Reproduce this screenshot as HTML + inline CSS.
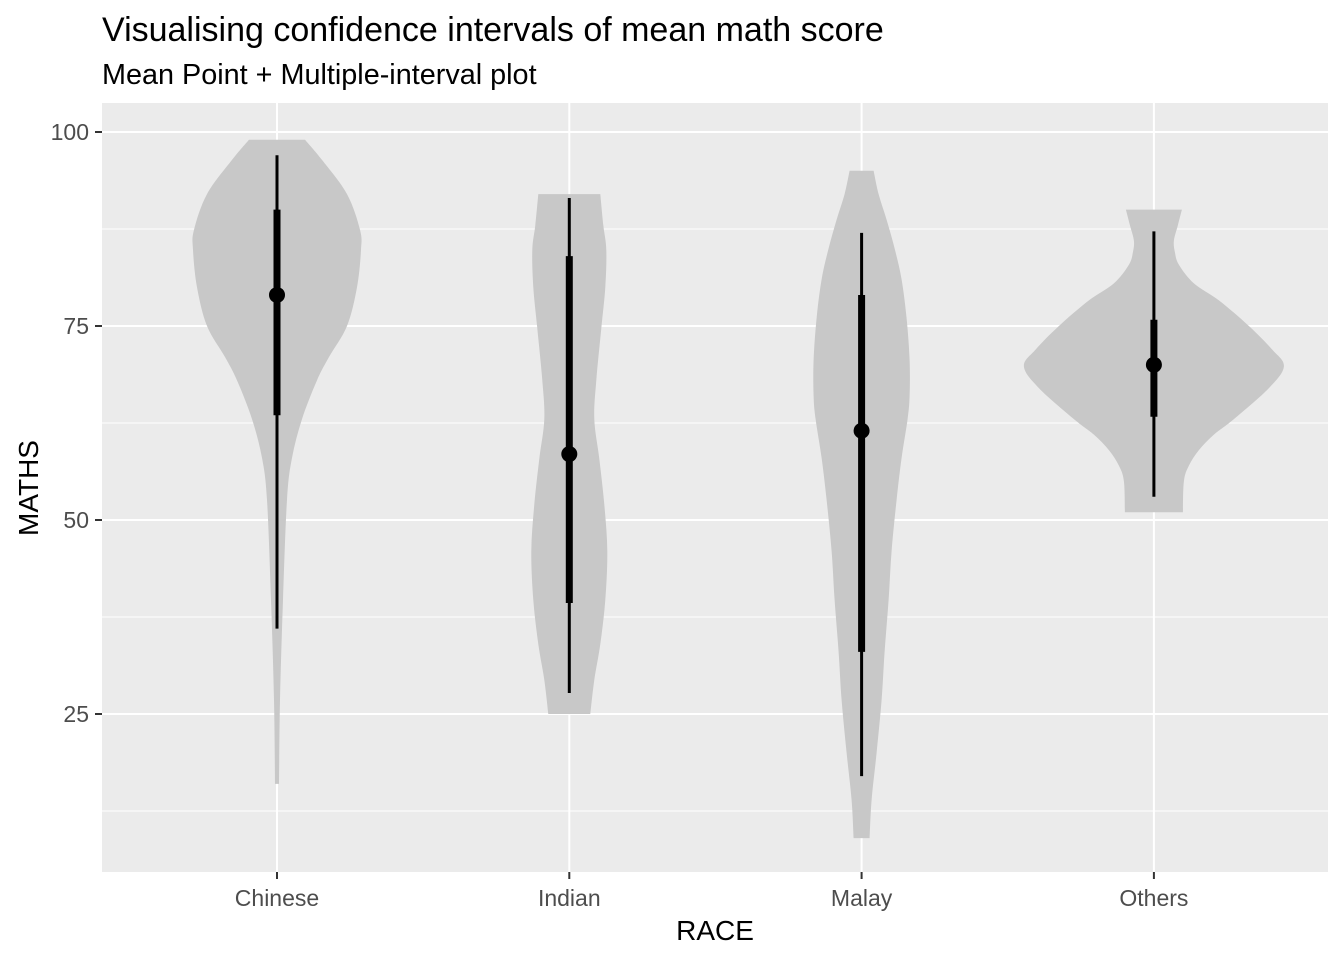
<!DOCTYPE html>
<html><head><meta charset="utf-8"><style>
body{margin:0;background:#fff;}
svg{display:block;font-family:"Liberation Sans",Arial,sans-serif;}
</style></head><body>
<svg id="chart" width="1344" height="960">
<text x="102" y="41" font-size="34" fill="#000">Visualising confidence intervals of mean math score</text>
<text x="102" y="84" font-size="28.8" fill="#000">Mean Point + Multiple-interval plot</text>
<rect x="102" y="103" width="1226" height="769" fill="#ebebeb"/>
<g id="grid"></g><g id="violins"></g><g id="marks"></g><g id="axes"></g>
<text x="715" y="940" font-size="28" text-anchor="middle">RACE</text>
<text transform="translate(38,488) rotate(-90)" font-size="28" text-anchor="middle">MATHS</text>
</svg>
<script>
const categories=["Chinese","Indian","Malay","Others"];
const yTicks=[25,50,75,100];
const yMinor=[12.5,37.5,62.5,87.5];
const violinChinese=[[99,28],[96.4,45],[92,70],[87.4,83],[84.8,84],[80,80],[75,70],[71,52],[68,40],[63,25],[58,15],[52.6,10],[39.7,6],[26.8,3],[16,2]];
const violinIndian=[[92,31],[88,34],[84.8,37],[80,36],[74.7,32],[68,27],[63,25],[57.9,30],[52,35],[46,38],[39.7,36],[34,31],[29.4,25],[25,21]];
const violinMalay=[[95,12],[92,17],[88.7,25],[85,33],[81,40],[76,45],[70.6,48],[66,48],[63,46],[58,40],[52.6,35],[46,30],[39.7,27],[33,23],[26.8,20],[20,15],[13.9,10],[9,8]];
const violinOthers=[[90,28],[88,24],[86,20],[84.5,21],[82.9,25],[80.5,40],[78.3,65],[75,95],[72,118],[69.8,130],[67,115],[63,80],[61,60],[59,45],[57,35],[55,30],[51,29]];
const violins=[violinChinese,violinIndian,violinMalay,violinOthers];
const meanVals=[79,58.5,61.5,70];
const thinLow=[36,27.7,17,53], thinHigh=[97,91.5,87,87.2];
const thickLow=[63.5,39.3,33,63.3], thickHigh=[90,84,79,75.8];
const ns="http://www.w3.org/2000/svg";
const y=v=>132+(100-v)*7.76;
const x=i=>277+i*292.3;
function mk(tag,attrs,parent){const e=document.createElementNS(ns,tag);for(const k in attrs)e.setAttribute(k,attrs[k]);parent.appendChild(e);return e;}
const grid=document.getElementById('grid');
yMinor.forEach(v=>{const l=mk('line',{x1:102,x2:1328,y1:y(v),y2:y(v),stroke:'#fff','stroke-width':1},grid);

});
yTicks.forEach(v=>{const l=mk('line',{x1:102,x2:1328,y1:y(v),y2:y(v),stroke:'#fff','stroke-width':2},grid);

});
categories.forEach((c,i)=>{const l=mk('line',{x1:x(i),x2:x(i),y1:103,y2:872,stroke:'#fff','stroke-width':2},grid);

});
function smooth(pts){let d='M'+pts[0][0]+','+pts[0][1];for(let i=0;i<pts.length-1;i++){const p0=pts[i-1]||pts[i],p1=pts[i],p2=pts[i+1],p3=pts[i+2]||p2;
d+=' C'+(p1[0]+(p2[0]-p0[0])/6)+','+(p1[1]+(p2[1]-p0[1])/6)+' '+(p2[0]-(p3[0]-p1[0])/6)+','+(p2[1]-(p3[1]-p1[1])/6)+' '+p2[0]+','+p2[1];}return d;}
const vg=document.getElementById('violins');
violins.forEach((prof,i)=>{const cx=x(i);const right=prof.map(p=>[cx+p[1],y(p[0])]);const left=prof.slice().reverse().map(p=>[cx-p[1],y(p[0])]);
let d=smooth(right)+' L'+left[0][0]+','+left[0][1]+smooth(left).replace(/^M[^C]*/,' ')+'Z';
const p=mk('path',{d:d,fill:'#c8c8c8'},vg);

});
const mg=document.getElementById('marks');
categories.forEach((c,i)=>{const cx=x(i);
const a=mk('line',{x1:cx,x2:cx,y1:y(thinLow[i]),y2:y(thinHigh[i]),stroke:'#000','stroke-width':3},mg);


const b=mk('line',{x1:cx,x2:cx,y1:y(thickLow[i]),y2:y(thickHigh[i]),stroke:'#000','stroke-width':7},mg);


const m=mk('circle',{cx:cx,cy:y(meanVals[i]),r:8,fill:'#000'},mg);

});
const ax=document.getElementById('axes');
yTicks.forEach(v=>{const t=mk('line',{x1:95,x2:102,y1:y(v),y2:y(v),stroke:'#333','stroke-width':2},ax);


const l=mk('text',{x:89,y:y(v)+8,'font-size':23,'text-anchor':'end',fill:'#4d4d4d'},ax);l.textContent=v;

});
categories.forEach((c,i)=>{const t=mk('line',{x1:x(i),x2:x(i),y1:872,y2:879,stroke:'#333','stroke-width':2},ax);


const l=mk('text',{x:x(i),y:906,'font-size':23,'text-anchor':'middle',fill:'#4d4d4d'},ax);l.textContent=c;

});
</script>
</body></html>
